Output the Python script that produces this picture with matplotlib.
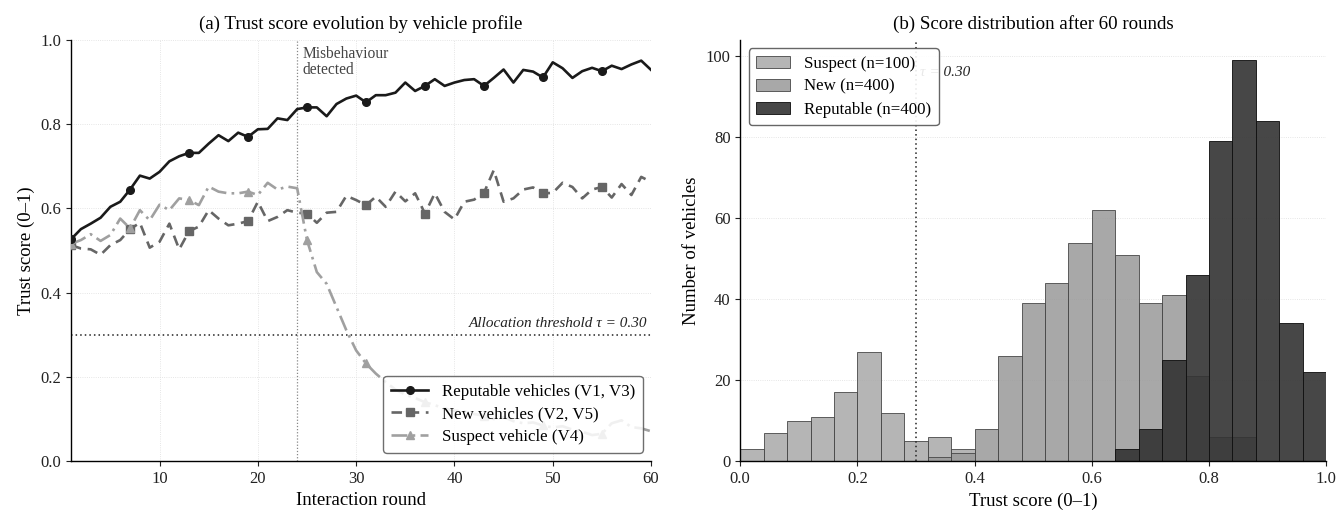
import matplotlib
matplotlib.use('Agg')
import matplotlib.pyplot as plt
import numpy as np

plt.rcParams['font.family'] = ['Liberation Serif', 'DejaVu Serif']
plt.rcParams['axes.linewidth'] = 1.0
plt.rcParams['xtick.color'] = '#222222'
plt.rcParams['ytick.color'] = '#222222'

# (a) trust score per interaction round
rounds = list(range(1, 61))

reputable = [0.527, 0.551, 0.564, 0.578, 0.604, 0.616, 0.645, 0.678, 0.671, 0.687,
             0.712, 0.724, 0.732, 0.732, 0.754, 0.774, 0.760, 0.780, 0.770, 0.788,
             0.789, 0.814, 0.810, 0.836, 0.840, 0.840, 0.819, 0.848, 0.861, 0.868,
             0.852, 0.869, 0.869, 0.875, 0.899, 0.879, 0.891, 0.907, 0.891, 0.899,
             0.905, 0.907, 0.891, 0.910, 0.930, 0.899, 0.929, 0.925, 0.911, 0.947,
             0.933, 0.910, 0.926, 0.934, 0.926, 0.939, 0.931, 0.942, 0.951, 0.929]

new = [0.513, 0.505, 0.503, 0.490, 0.513, 0.525, 0.551, 0.566, 0.507, 0.521,
       0.564, 0.503, 0.546, 0.557, 0.596, 0.576, 0.560, 0.564, 0.570, 0.616,
       0.570, 0.580, 0.596, 0.590, 0.588, 0.566, 0.590, 0.592, 0.630, 0.620,
       0.608, 0.628, 0.604, 0.640, 0.617, 0.636, 0.588, 0.636, 0.592, 0.574,
       0.616, 0.621, 0.637, 0.691, 0.616, 0.624, 0.645, 0.650, 0.636, 0.637,
       0.661, 0.651, 0.624, 0.645, 0.651, 0.626, 0.658, 0.632, 0.675, 0.663]

suspect = [0.516, 0.525, 0.539, 0.523, 0.537, 0.576, 0.553, 0.596, 0.572, 0.609,
           0.596, 0.624, 0.620, 0.608, 0.652, 0.640, 0.636, 0.636, 0.640, 0.632,
           0.661, 0.645, 0.652, 0.648, 0.525, 0.449, 0.421, 0.366, 0.311, 0.263,
           0.232, 0.208, 0.188, 0.170, 0.158, 0.150, 0.140, 0.133, 0.125, 0.120,
           0.118, 0.112, 0.108, 0.100, 0.105, 0.095, 0.090, 0.092, 0.085, 0.080,
           0.083, 0.075, 0.070, 0.062, 0.065, 0.090, 0.097, 0.081, 0.078, 0.071]

threshold = 0.30
misbehaviour_round = 24

# (b) histogram counts, bins of 0.04 on [0, 1]
bin_edges = np.linspace(0, 1, 26)
suspect_counts = [3, 7, 10, 11, 17, 27, 12, 5, 6, 3, 0, 0, 0,
                  0, 0, 0, 0, 0, 0, 0, 0, 0, 0, 0, 0]
new_counts = [0, 0, 0, 0, 0, 0, 0, 0, 1, 2, 8, 26, 39,
              44, 54, 62, 51, 39, 41, 21, 6, 6, 0, 0, 0]
reputable_counts = [0, 0, 0, 0, 0, 0, 0, 0, 0, 0, 0, 0, 0,
                    0, 0, 0, 3, 8, 25, 46, 79, 99, 84, 34, 22]

fig = plt.figure(figsize=(13.41, 5.13), dpi=100)
ax1 = fig.add_axes([0.053, 0.101, 0.4325, 0.821])
ax2 = fig.add_axes([0.552, 0.101, 0.437, 0.821])

# ---- left panel
ax1.plot(rounds, reputable, color='#1a1a1a', lw=1.9, marker='o', ms=5.5,
         markevery=6, label='Reputable vehicles (V1, V3)', zorder=4)
ax1.plot(rounds, new, color='#666666', lw=1.9, ls=(0, (4, 2.5)), marker='s', ms=5.5,
         markevery=6, label='New vehicles (V2, V5)', zorder=3)
ax1.plot(rounds, suspect, color='#a0a0a0', lw=1.9, ls=(0, (6, 2, 1, 2)), marker='^', ms=5.5,
         markevery=6, label='Suspect vehicle (V4)', zorder=3)

ax1.axhline(threshold, color='#222222', lw=1.1, ls=(0, (1, 2)), zorder=2)
ax1.text(59.6, threshold + 0.012, 'Allocation threshold τ = 0.30', ha='right', va='bottom',
         fontsize=11, style='italic', color='#222222')
ax1.axvline(misbehaviour_round, color='#888888', lw=0.9, ls=(0, (1, 1.5)), zorder=2)
ax1.text(misbehaviour_round + 0.5, 0.985, 'Misbehaviour\ndetected', ha='left', va='top',
         fontsize=11.2, color='#444444', linespacing=1.0)

ax1.set_xlim(1, 60)
ax1.set_ylim(0, 1)
ax1.set_xticks([10, 20, 30, 40, 50, 60])
ax1.set_yticks([0.0, 0.2, 0.4, 0.6, 0.8, 1.0])
ax1.set_xlabel('Interaction round', fontsize=13.5)
ax1.set_ylabel('Trust score (0–1)', fontsize=13.5)
ax1.set_title('(a) Trust score evolution by vehicle profile', fontsize=13.6, pad=8)
ax1.grid(True, color='#dddddd', lw=0.6, ls=':')
ax1.set_axisbelow(True)
ax1.spines['top'].set_visible(False)
ax1.spines['right'].set_visible(False)
ax1.tick_params(labelsize=12)
leg1 = ax1.legend(loc='lower right', fontsize=12.2, framealpha=0.85, edgecolor='#555555',
                  handlelength=2.2, borderpad=0.45, labelspacing=0.4)
leg1.set_zorder(10)

# ---- right panel
widths = np.diff(bin_edges)
ax2.bar(bin_edges[:-1], suspect_counts, width=widths, align='edge', color='#a8a8a8',
        alpha=0.85, edgecolor='#444444', lw=0.7, label='Suspect (n=100)', zorder=2)
ax2.bar(bin_edges[:-1], new_counts, width=widths, align='edge', color='#999999',
        alpha=0.85, edgecolor='#444444', lw=0.7, label='New (n=400)', zorder=2)
ax2.bar(bin_edges[:-1], reputable_counts, width=widths, align='edge', color='#333333',
        alpha=0.9, edgecolor='#111111', lw=0.7, label='Reputable (n=400)', zorder=2)

ax2.axvline(threshold, color='#222222', lw=1.1, ls=(0, (1, 2)), zorder=3)
ax2.text(threshold + 0.006, 96, 'τ = 0.30', ha='left', va='center', fontsize=11,
         style='italic', color='#222222', zorder=3)

ax2.set_xlim(0, 1)
ax2.set_ylim(0, 104)
ax2.set_yticks([0, 20, 40, 60, 80, 100])
ax2.set_xticks([0.0, 0.2, 0.4, 0.6, 0.8, 1.0])
ax2.set_xlabel('Trust score (0–1)', fontsize=13.5)
ax2.set_ylabel('Number of vehicles', fontsize=13.5)
ax2.set_title('(b) Score distribution after 60 rounds', fontsize=13.6, pad=8)
ax2.grid(True, axis='y', color='#dddddd', lw=0.6, ls=':')
ax2.set_axisbelow(True)
ax2.spines['top'].set_visible(False)
ax2.spines['right'].set_visible(False)
ax2.tick_params(labelsize=12)
leg2 = ax2.legend(loc='upper left', fontsize=12.2, framealpha=0.9, edgecolor='#555555',
                  borderpad=0.45, labelspacing=0.4)
leg2.set_zorder(10)

fig.savefig('out.png', dpi=100)
